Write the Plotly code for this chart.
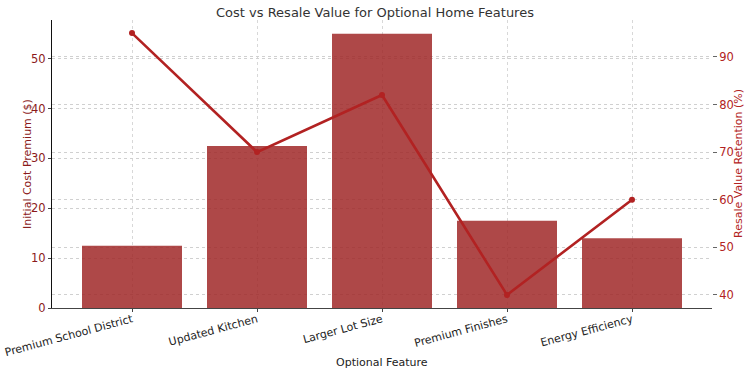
import plotly.graph_objects as go

features = ["Premium School District", "Updated Kitchen", "Larger Lot Size", "Premium Finishes", "Energy Efficiency"]
cost_premium = [12.5, 32.5, 55, 17.5, 14]
resale_retention = [95, 70, 82, 40, 60]

FONT = "DejaVu Sans"
fig = go.Figure()
fig.add_trace(go.Bar(x=list(range(len(features))), y=cost_premium, width=0.8,
                     marker=dict(color="rgba(160,40,40,0.85)", line=dict(width=0)),
                     yaxis="y", showlegend=False))
fig.add_trace(go.Scatter(x=list(range(len(features))), y=resale_retention, mode="lines+markers",
                         line=dict(color="#b22222", width=2.6), marker=dict(size=6, color="#b22222"),
                         yaxis="y2", showlegend=False))

fig.update_layout(
    width=750, height=375, margin=dict(l=52, r=38, t=20, b=67),
    paper_bgcolor="white", plot_bgcolor="white",
    font=dict(family=FONT, size=11, color="#222"),
    title=dict(text="Cost vs Resale Value for Optional Home Features", x=0.5, xanchor="center",
               y=0.966, yanchor="middle", font=dict(size=13, color="#333")),
    xaxis=dict(range=[-0.64, 4.64], tickvals=list(range(len(features))), ticktext=features,
               tickangle=-15, showgrid=True, gridcolor="#d8d8d8", griddash="dot", gridwidth=1,
               showline=True, linecolor="#444", linewidth=1, ticks="outside", ticklen=3,
               tickcolor="#444", zeroline=False, tickfont=dict(size=11, color="#222"),
               ticklabelstandoff=-3, automargin=False),
    yaxis=dict(range=[0, 57.75], tickvals=[0, 10, 20, 30, 40, 50], showgrid=True,
               gridcolor="#d0d0d0", griddash="dot", gridwidth=1, showline=True, linecolor="#111",
               linewidth=1, ticks="outside", ticklen=3, tickcolor="#444", zeroline=False,
               tickfont=dict(size=11.5, color="#8b1a1a"), automargin=False),
    yaxis2=dict(range=[37.25, 97.75], tickvals=[40, 50, 60, 70, 80, 90], overlaying="y", side="right",
                showgrid=True, gridcolor="#d0d0d0", griddash="dot", gridwidth=1, showline=False,
                ticks="outside", ticklen=4, tickcolor="#666", zeroline=False,
                tickfont=dict(size=11.5, color="#b22222"), automargin=False),
)
fig.add_annotation(text="Optional Feature", xref="paper", yref="paper", x=0.5, y=-54 / 288,
                   xanchor="center", yanchor="middle", showarrow=False, font=dict(size=11, color="#222"))
fig.add_annotation(text="Initial Cost Premium ($)", xref="paper", yref="paper", x=-25 / 660, y=0.5,
                   textangle=-90, xanchor="center", yanchor="middle", showarrow=False,
                   font=dict(size=11, color="#8b1a1a"))
fig.add_annotation(text="Resale Value Retention (%)", xref="paper", yref="paper", x=1 + 26 / 660, y=0.5,
                   textangle=-90, xanchor="center", yanchor="middle", showarrow=False,
                   font=dict(size=11, color="#b22222"))
fig.write_html("out.html")
